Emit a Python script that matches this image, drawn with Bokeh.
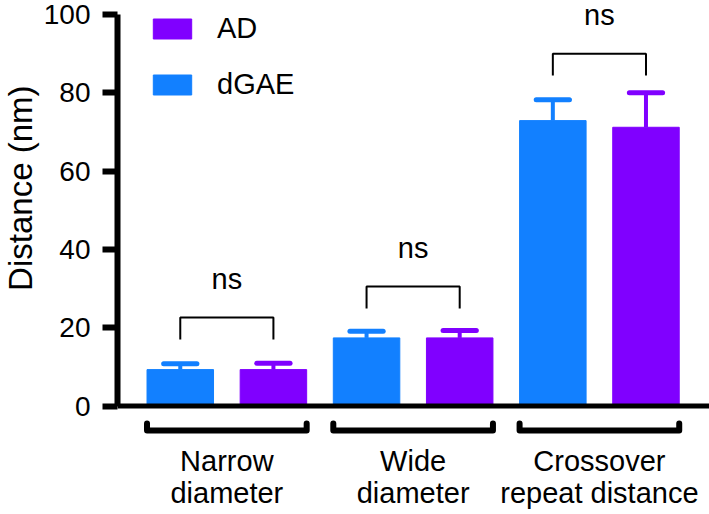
from bokeh.plotting import figure
from bokeh.models import Range1d, FixedTicker, Legend, LegendItem, Title, ColumnDataSource
from bokeh.core.properties import value
from bokeh.embed import file_html
from bokeh.resources import INLINE

# ---------------- data ----------------
categories = ["Narrow\ndiameter", "Wide\ndiameter", "Crossover\nrepeat distance"]
series = ["dGAE", "AD"]
dgae_mean = [9.3, 17.4, 72.9]
dgae_err = [1.5, 1.7, 5.3]
ad_mean = [9.3, 17.4, 71.2]
ad_err = [1.6, 1.9, 8.8]
sig_labels = ["ns", "ns", "ns"]
sig_base = [17.0, 24.9, 84.4]
y_ticks = [0, 20, 40, 60, 80, 100]
y_title = "Distance (nm)"

BLUE = "#1280FF"
PURPLE = "#8000FF"
FONT = "Liberation Sans"

W, H = 709, 514
LEFT = 117

n = len(categories)
x_dgae = [2 * i for i in range(n)]
x_ad = [2 * i + 1 for i in range(n)]
centers = [2 * i + 0.5 for i in range(n)]
bar_w = 0.714
X0, X1 = -0.674, 5.682

p = figure(width=W, height=H, output_backend="svg", toolbar_location=None,
           x_range=Range1d(X0, X1), y_range=Range1d(-27.71, 103.58),
           x_axis_location=None, min_border_left=LEFT, min_border_right=0,
           min_border_top=0, min_border_bottom=0)
p.outline_line_color = None
p.grid.visible = False
p.background_fill_color = "white"
p.border_fill_color = "white"

# y axis
ax = p.yaxis[0]
ax.bounds = (0, 100)
ax.ticker = FixedTicker(ticks=y_ticks)
ax.axis_line_width = 6
ax.axis_line_color = "black"
ax.major_tick_line_width = 6
ax.major_tick_line_color = "black"
ax.major_tick_out = 15
ax.major_tick_in = 0
ax.minor_tick_line_color = None
ax.major_label_text_font = FONT
ax.major_label_text_font_size = "28px"
ax.major_label_text_color = "black"
ax.major_label_standoff = 12

# y axis title as a left-side title, end placed near the top
p.add_layout(Title(text=y_title, align="right", offset=85, standoff=0,
                   vertical_align="top", text_font=FONT,
                   text_font_size="33px", text_font_style="normal",
                   text_color="black"), "left")

# bars
src_d = ColumnDataSource(dict(x=x_dgae, top=dgae_mean,
                              e=[m + e for m, e in zip(dgae_mean, dgae_err)]))
src_a = ColumnDataSource(dict(x=x_ad, top=ad_mean,
                              e=[m + e for m, e in zip(ad_mean, ad_err)]))
r_d = p.vbar(x="x", top="top", bottom=0, width=bar_w, source=src_d,
             fill_color=BLUE, line_color=BLUE)
r_a = p.vbar(x="x", top="top", bottom=0, width=bar_w, source=src_a,
             fill_color=PURPLE, line_color=PURPLE)

# error bars (upper only)
cap = bar_w / 4
for src, col in ((src_d, BLUE), (src_a, PURPLE)):
    xs = src.data["x"]
    tops = src.data["top"]
    es = src.data["e"]
    p.segment(x0=xs, y0=tops, x1=xs, y1=es, line_color=col, line_width=4)
    p.segment(x0=[x - cap for x in xs], y0=es, x1=[x + cap for x in xs], y1=es,
              line_color=col, line_width=5, line_cap="round")

# x axis line at 0
p.segment(x0=[X0], y0=[0], x1=[X1], y1=[0], line_color="black", line_width=5)

# significance brackets
br_h = 5.6
xs_b, ys_b = [], []
for i in range(n):
    b = sig_base[i]
    xs_b.append([x_dgae[i], x_dgae[i], x_ad[i], x_ad[i]])
    ys_b.append([b, b + br_h, b + br_h, b])
p.multi_line(xs=xs_b, ys=ys_b, line_color="black", line_width=2)
p.text(x=centers, y=[b + br_h + 9.8 for b in sig_base], text=sig_labels,
       text_font=value(FONT), text_font_size="29px", text_color="black",
       text_align="center", text_baseline="middle")

# category brackets below axis
cb_y = -6.26
cb_leg = -4.47
xs_c, ys_c = [], []
for i in range(n):
    l = x_dgae[i] - bar_w / 2
    r = x_ad[i] + bar_w / 2
    xs_c.append([l, l, r, r])
    ys_c.append([cb_leg, cb_y, cb_y, cb_leg])
p.multi_line(xs=xs_c, ys=ys_c, line_color="black", line_width=6,
             line_cap="round", line_join="round")

# category labels (two lines)
line1 = [c.split("\n")[0] for c in categories]
line2 = [c.split("\n")[1] for c in categories]
p.text(x=centers, y=[-14.05] * n, text=line1, text_font=value(FONT),
       text_font_size="29px", text_color="black", text_align="center",
       text_baseline="middle")
p.text(x=centers, y=[-22.15] * n, text=line2, text_font=value(FONT),
       text_font_size="29px", text_color="black", text_align="center",
       text_baseline="middle")

# legend
legend = Legend(items=[LegendItem(label=series[1], renderers=[r_a]),
                       LegendItem(label=series[0], renderers=[r_d])],
                location=(31, 413), orientation="vertical",
                glyph_width=48, glyph_height=25, label_standoff=21,
                spacing=23, padding=0, margin=0,
                border_line_color=None, background_fill_alpha=0,
                label_text_font=FONT, label_text_font_size="29px",
                label_text_color="black", label_height=25)
p.add_layout(legend)

open("out.html", "w").write(file_html(p, INLINE))
